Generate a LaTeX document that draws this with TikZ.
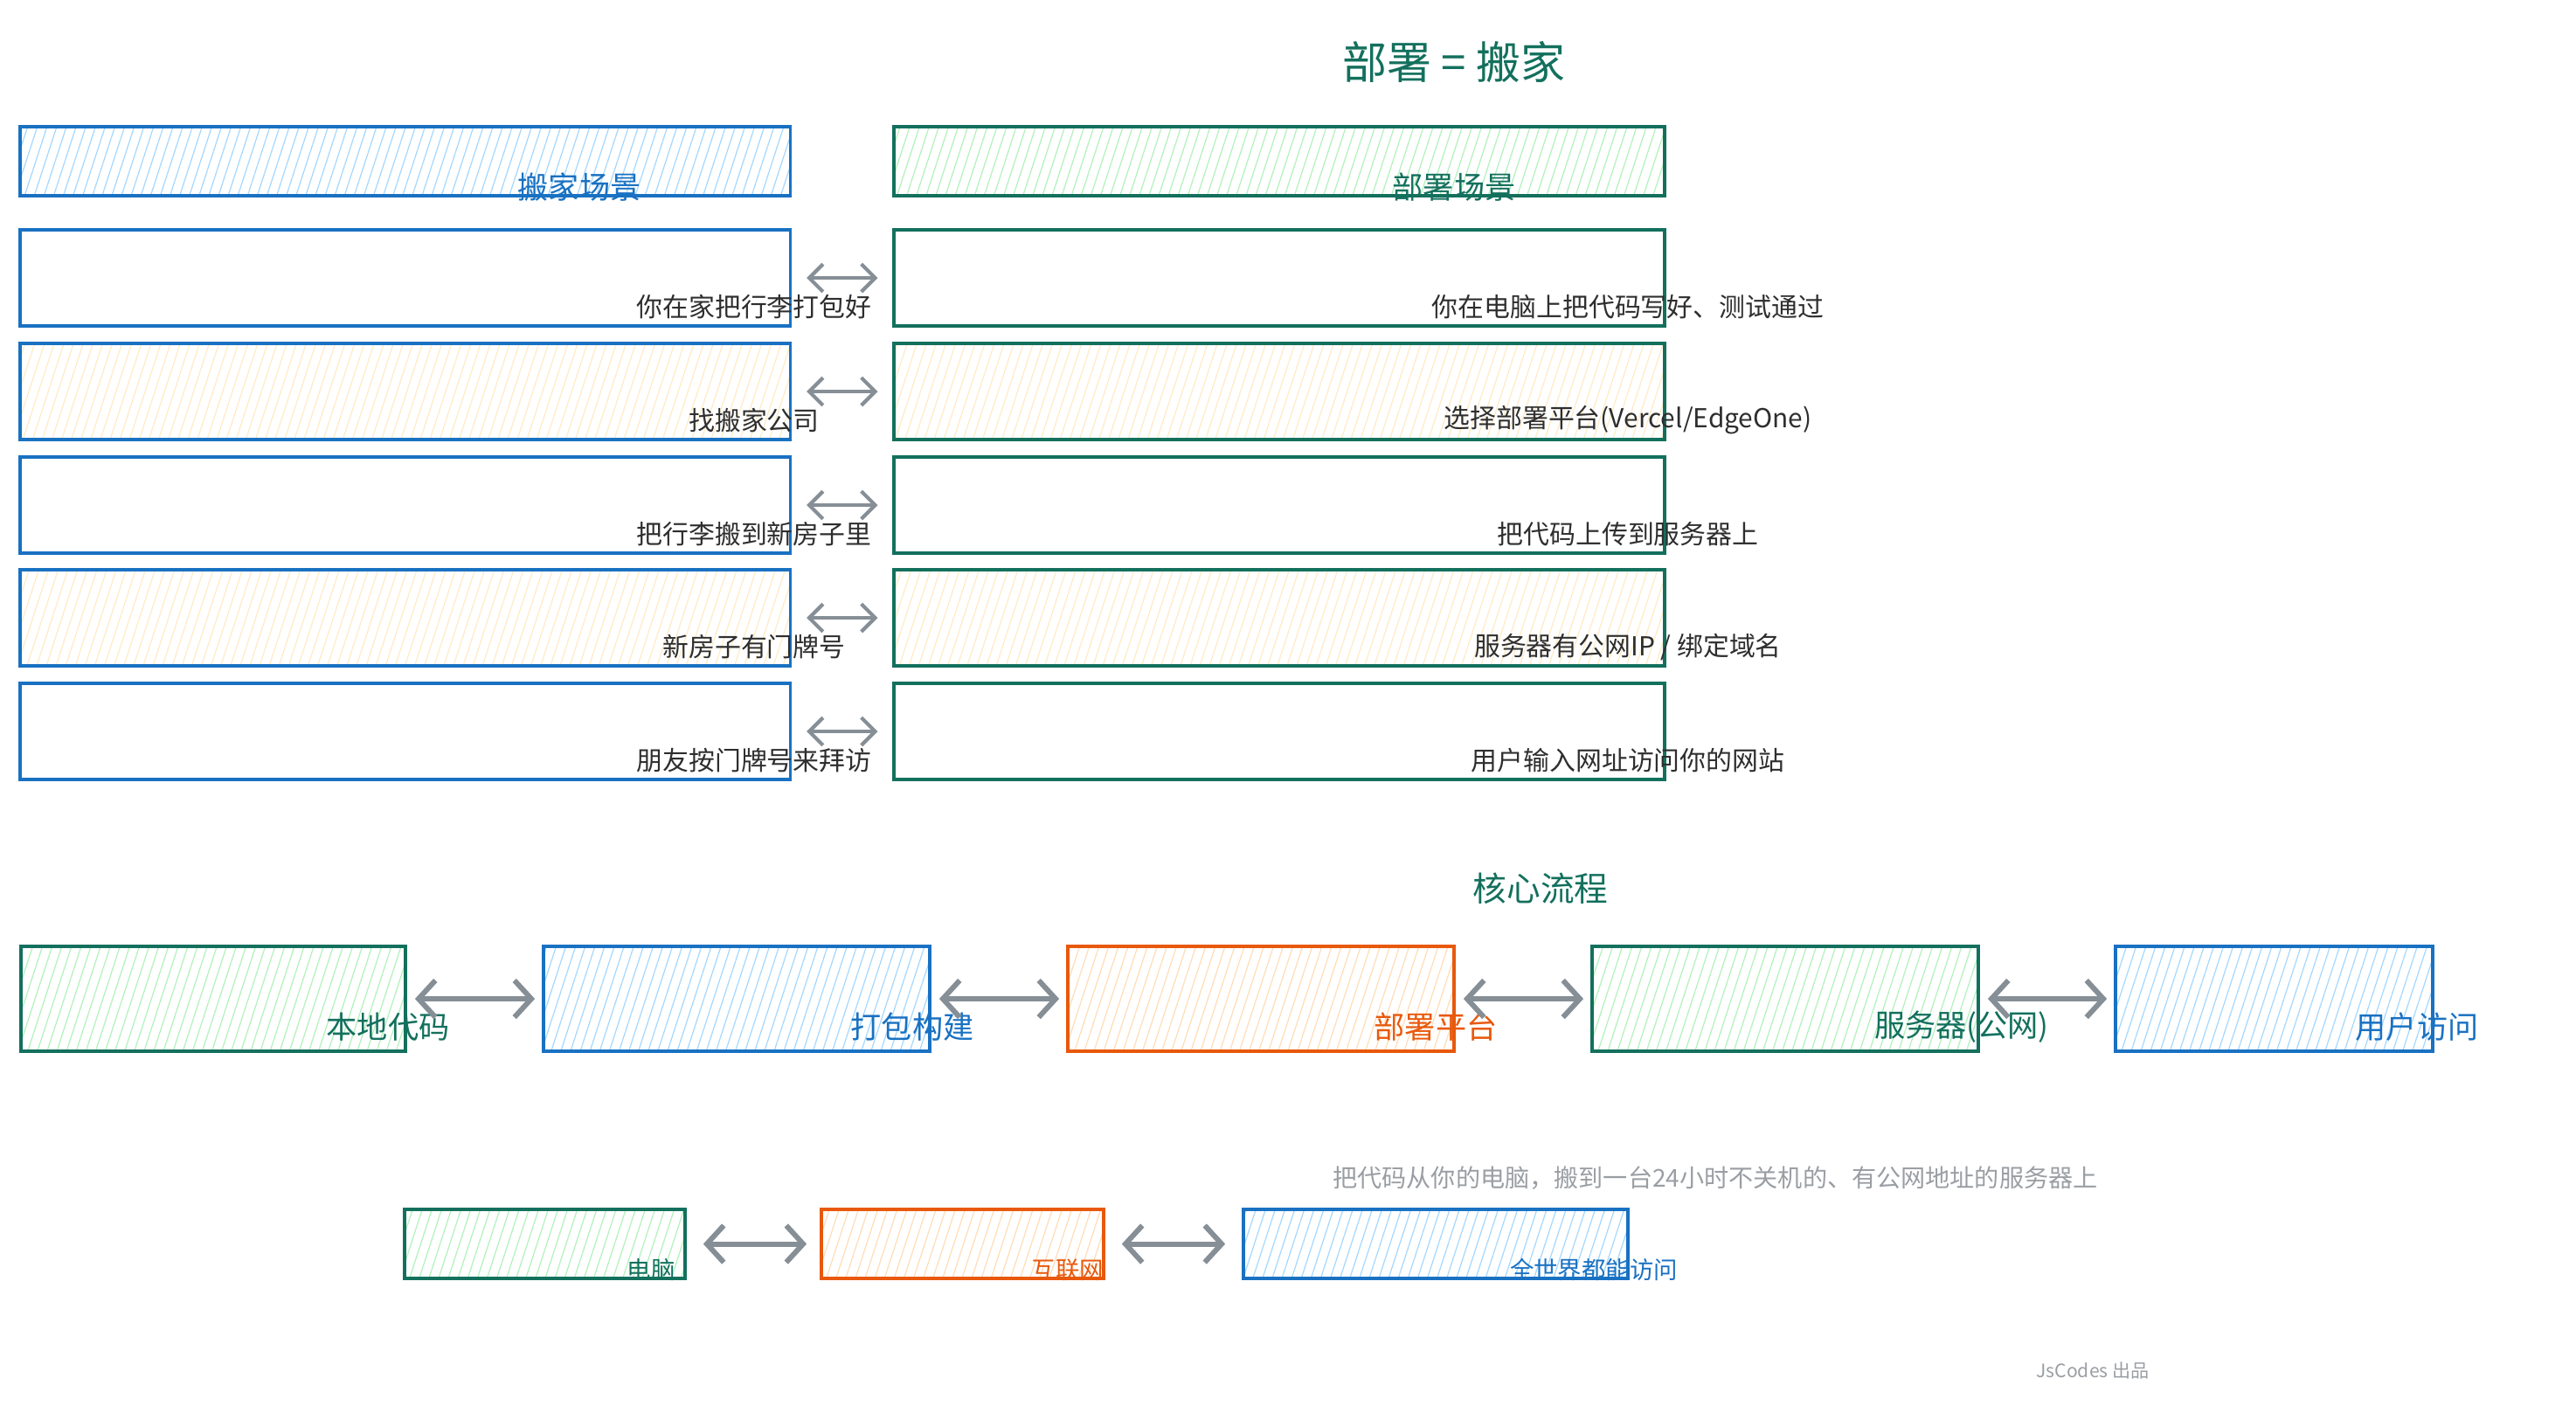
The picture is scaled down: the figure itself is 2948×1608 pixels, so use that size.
\documentclass[tikz,border=0pt]{standalone}
\usepackage{fontspec}
\newfontfamily\cjk{Noto Sans CJK SC}
\usetikzlibrary{arrows.meta,patterns.meta}
\definecolor{skyline}{HTML}{1971C2}
\definecolor{skyfill}{HTML}{A5D8FF}
\definecolor{tealline}{HTML}{13705D}
\definecolor{tealfill}{HTML}{B2F2BB}
\definecolor{rustline}{HTML}{E8590C}
\definecolor{rustfill}{HTML}{FFDDB8}
\definecolor{creamfill}{HTML}{FFEBC6}
\definecolor{arrowgray}{HTML}{868E96}
\definecolor{inkgray}{HTML}{2E2E2E}
\definecolor{notegray}{HTML}{9A9EA3}
\tikzset{
  card/.style={draw, line width=1pt, inner sep=0pt},
  hatch/.style={pattern={Lines[angle=72, distance=3pt, line width=0.35pt]}, pattern color=#1},
  bluecard/.style={card, draw=skyline},
  greencard/.style={card, draw=tealline},
  orangecard/.style={card, draw=rustline},
  rowcard/.style={minimum width=8.81cm, minimum height=1.1cm},
  twoway/.style={{Straight Barb[length=4.5pt, width=9pt]}-{Straight Barb[length=4.5pt, width=9pt]}, line width=1.2pt, arrowgray},
  bigway/.style={{Straight Barb[length=5.5pt, width=12pt]}-{Straight Barb[length=5.5pt, width=12pt]}, line width=1.7pt, arrowgray},
  tag/.style={inner sep=0pt, font=\cjk\fontsize{#1}{#1}\selectfont},
}
\begin{document}
\begin{tikzpicture}[x=0.01cm, y=-0.01cm]
\useasboundingbox (0,0) rectangle (2948,1608);
\node[tag=14.5, text=tealline] (title) at (1664,71) {部署 = 搬家};
\node[bluecard, rowcard, minimum height=0.79cm, hatch=skyfill] (movehead) at (463.5,184.5) {};
\node[greencard, rowcard, minimum height=0.79cm, hatch=tealfill] (deployhead) at (1464,184.5) {};
\node[tag=10, text=skyline] (movename) at (663,214) {搬家场景};
\node[tag=10, text=tealline] (deployname) at (1664,214) {部署场景};
\node[bluecard, rowcard] (move1) at (463.5,318) {};
\node[bluecard, rowcard, hatch=creamfill] (move2) at (463.5,448) {};
\node[bluecard, rowcard] (move3) at (463.5,578) {};
\node[bluecard, rowcard, hatch=creamfill] (move4) at (463.5,707) {};
\node[bluecard, rowcard] (move5) at (463.5,837) {};
\node[greencard, rowcard] (deploy1) at (1464,318) {};
\node[greencard, rowcard, hatch=creamfill] (deploy2) at (1464,448) {};
\node[greencard, rowcard] (deploy3) at (1464,578) {};
\node[greencard, rowcard, hatch=creamfill] (deploy4) at (1464,707) {};
\node[greencard, rowcard] (deploy5) at (1464,837) {};
\node[tag=8.5, text=inkgray] (movetext1) at (863,351) {你在家把行李打包好};
\node[tag=8.5, text=inkgray] (movetext2) at (863,481) {找搬家公司};
\node[tag=8.5, text=inkgray] (movetext3) at (863,611) {把行李搬到新房子里};
\node[tag=8.5, text=inkgray] (movetext4) at (863,740) {新房子有门牌号};
\node[tag=8.5, text=inkgray] (movetext5) at (863,870) {朋友按门牌号来拜访};
\node[tag=8.5, text=inkgray] (deploytext1) at (1863,351) {你在电脑上把代码写好、测试通过};
\node[tag=8.5, text=inkgray] (deploytext2) at (1863,481) {选择部署平台(Vercel/EdgeOne)};
\node[tag=8.5, text=inkgray] (deploytext3) at (1863,611) {把代码上传到服务器上};
\node[tag=8.5, text=inkgray] (deploytext4) at (1863,740) {服务器有公网IP / 绑定域名};
\node[tag=8.5, text=inkgray] (deploytext5) at (1863,870) {用户输入网址访问你的网站};
\draw[twoway, shorten <=0.17cm, shorten >=0.17cm] (move1.east) -- (deploy1.west);
\draw[twoway, shorten <=0.17cm, shorten >=0.17cm] (move2.east) -- (deploy2.west);
\draw[twoway, shorten <=0.17cm, shorten >=0.17cm] (move3.east) -- (deploy3.west);
\draw[twoway, shorten <=0.17cm, shorten >=0.17cm] (move4.east) -- (deploy4.west);
\draw[twoway, shorten <=0.17cm, shorten >=0.17cm] (move5.east) -- (deploy5.west);
\node[tag=11, text=tealline] (flowtitle) at (1763,1017) {核心流程};
\node[greencard, minimum width=4.4cm, minimum height=1.2cm, hatch=tealfill] (localcode) at (244,1143) {};
\node[bluecard, minimum width=4.42cm, minimum height=1.2cm, hatch=skyfill] (build) at (843,1143) {};
\node[orangecard, minimum width=4.42cm, minimum height=1.2cm, hatch=rustfill] (platform) at (1443,1143) {};
\node[greencard, minimum width=4.42cm, minimum height=1.2cm, hatch=tealfill] (server) at (2043,1143) {};
\node[bluecard, minimum width=3.63cm, minimum height=1.2cm, hatch=skyfill] (visit) at (2602.5,1143) {};
\node[tag=10, text=tealline] (localcodetext) at (444,1175) {本地代码};
\node[tag=10, text=skyline] (buildtext) at (1044,1175) {打包构建};
\node[tag=10, text=rustline] (platformtext) at (1643,1175) {部署平台};
\node[tag=10, text=tealline] (servertext) at (2245,1175) {服务器(公网)};
\node[tag=10, text=skyline] (visittext) at (2766,1175) {用户访问};
\draw[bigway, shorten <=0.09cm, shorten >=0.08cm] (localcode.east) -- (build.west);
\draw[bigway, shorten <=0.09cm, shorten >=0.08cm] (build.east) -- (platform.west);
\draw[bigway, shorten <=0.09cm, shorten >=0.08cm] (platform.east) -- (server.west);
\draw[bigway, shorten <=0.09cm, shorten >=0.08cm] (server.east) -- (visit.west);
\node[tag=8, text=notegray] (summary) at (1963,1348) {把代码从你的电脑，搬到一台24小时不关机的、有公网地址的服务器上};
\node[greencard, minimum width=3.21cm, minimum height=0.79cm, hatch=tealfill] (computer) at (623.5,1423.5) {};
\node[orangecard, minimum width=3.23cm, minimum height=0.79cm, hatch=rustfill] (internet) at (1101.5,1423.5) {};
\node[bluecard, minimum width=4.4cm, minimum height=0.79cm, hatch=skyfill] (world) at (1643,1423.5) {};
\node[tag=7.8, text=tealline] (computertext) at (745,1453) {电脑};
\node[tag=7.8, text=rustline] (internettext) at (1222,1453) {互联网};
\node[tag=7.8, text=skyline] (worldtext) at (1824,1453) {全世界都能访问};
\draw[bigway, shorten <=0.19cm, shorten >=0.15cm] (computer.east) -- (internet.west);
\draw[bigway, shorten <=0.19cm, shorten >=0.19cm] (internet.east) -- (world.west);
\node[tag=6, text=notegray] (credit) at (2395,1568) {JsCodes 出品};
\end{tikzpicture}
\end{document}
